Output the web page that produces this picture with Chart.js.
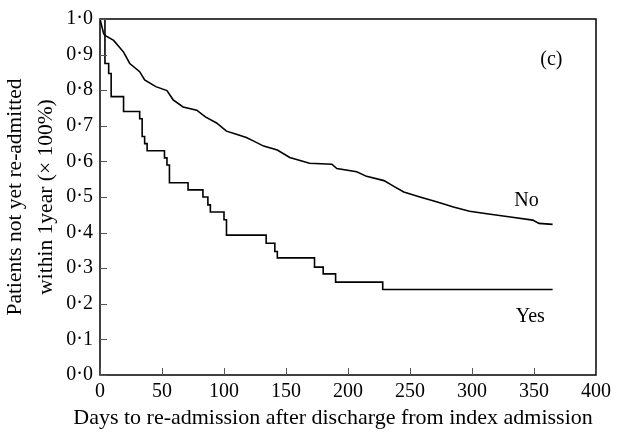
<!DOCTYPE html>
<html>
<head>
<meta charset="utf-8">
<script src="https://cdn.jsdelivr.net/npm/chart.js@4/dist/chart.umd.min.js"></script>
<style>
html, body { margin: 0; padding: 0; background: #fff; }
#wrap { width: 617px; height: 436px; }
</style>
</head>
<body>
<div id="wrap"><canvas id="kmChart"></canvas></div>
<script>
// days and survival proportion
var noDays = [0, 3, 4, 11, 19, 24, 32, 36, 45, 54, 59, 67, 78, 85, 94, 102, 110, 118, 124, 132, 143, 153, 169, 187, 191, 207, 215, 229, 237, 245, 258, 272, 285, 298, 312, 331, 349, 354, 365];
var noVals = [1.0, 0.958, 0.954, 0.94, 0.907, 0.875, 0.852, 0.829, 0.81, 0.799, 0.773, 0.753, 0.744, 0.725, 0.708, 0.685, 0.676, 0.667, 0.657, 0.643, 0.632, 0.611, 0.595, 0.592, 0.58, 0.571, 0.558, 0.546, 0.53, 0.514, 0.5, 0.486, 0.472, 0.46, 0.453, 0.444, 0.435, 0.426, 0.423];
var yesDays = [0, 4, 7, 9, 19, 32, 34, 36, 38, 52, 54, 56, 71, 83, 87, 89, 100, 102, 134, 141, 143, 173, 180, 190, 228, 365];
var yesVals = [1.0, 0.875, 0.847, 0.782, 0.74, 0.72, 0.67, 0.65, 0.63, 0.61, 0.59, 0.54, 0.52, 0.5, 0.478, 0.458, 0.436, 0.393, 0.37, 0.347, 0.329, 0.303, 0.284, 0.261, 0.24, 0.24];
var xTicks = [0, 50, 100, 150, 200, 250, 300, 350, 400];
var yTicks = [0, 0.1, 0.2, 0.3, 0.4, 0.5, 0.6, 0.7, 0.8, 0.9, 1.0];
var xTitle = 'Days to re-admission after discharge from index admission';
var notes = [
    { text: '(c)', x: 364, y: 0.886 },
    { text: 'No', x: 344, y: 0.49 },
    { text: 'Yes', x: 347, y: 0.164 }
];

function pts(xs, ys) {
    return xs.map(function (d, i) { return { x: d, y: ys[i] }; });
}

var serif = '"Liberation Serif", "DejaVu Serif", serif';

// inward ticks, box, x title and text labels
var framePlugin = {
    id: 'frame',
    afterDatasetsDraw: function (chart) {
        var c = chart.ctx, a = chart.chartArea;
        var xs = chart.scales.x, ys = chart.scales.y;
        c.save();
        c.strokeStyle = '#000';
        c.lineWidth = 1.5;
        c.strokeRect(a.left, a.top, a.right - a.left, a.bottom - a.top);
        c.lineWidth = 1;
        c.strokeStyle = '#555';
        xTicks.forEach(function (t) {
            var px = Math.round(xs.getPixelForValue(t)) + 0.5;
            c.beginPath(); c.moveTo(px, a.bottom); c.lineTo(px, a.bottom - 7); c.stroke();
        });
        yTicks.forEach(function (t) {
            var py = Math.round(ys.getPixelForValue(t)) + 0.5;
            c.beginPath(); c.moveTo(a.left, py); c.lineTo(a.left + 7, py); c.stroke();
        });
        c.fillStyle = '#000';
        c.textAlign = 'center';
        c.textBaseline = 'middle';
        c.font = '20px ' + serif;
        notes.forEach(function (n) {
            c.fillText(n.text, xs.getPixelForValue(n.x), ys.getPixelForValue(n.y));
        });
        // x title sits a little left of the plot centre in the original
        c.font = '22px ' + serif;
        c.fillText(xTitle, 333, 418);
        c.restore();
    }
};

new Chart(document.getElementById('kmChart'), {
    type: 'line',
    data: {
        datasets: [{
            label: 'No',
            data: pts(noDays, noVals),
            borderColor: '#000',
            borderWidth: 1.6,
            pointRadius: 0,
            tension: 0
        }, {
            label: 'Yes',
            data: pts(yesDays, yesVals),
            borderColor: '#000',
            borderWidth: 1.6,
            pointRadius: 0,
            stepped: 'before'
        }]
    },
    options: {
        responsive: true,
        maintainAspectRatio: false,
        animation: false,
        layout: { padding: { top: 15, right: 21, left: 0, bottom: 0 } },
        plugins: { legend: { display: false }, tooltip: { enabled: false } },
        scales: {
            x: {
                type: 'linear',
                min: 0, max: 400,
                afterBuildTicks: function (s) { s.ticks = xTicks.map(function (v) { return { value: v }; }); },
                afterFit: function (s) { s.height = 61; },
                grid: { display: false, drawTicks: false },
                border: { display: false },
                ticks: { color: '#000', font: { family: serif, size: 20 }, padding: 5, maxRotation: 0 },
                title: { display: false }
            },
            y: {
                min: 0, max: 1,
                afterBuildTicks: function (s) { s.ticks = yTicks.map(function (v) { return { value: v }; }); },
                afterFit: function (s) { s.width = 100; },
                grid: { display: false, drawTicks: false },
                border: { display: false },
                ticks: {
                    color: '#000', font: { family: serif, size: 20 }, padding: 7,
                    callback: function (v) { return v.toFixed(1).replace('.', '\u00b7'); }
                },
                title: {
                    display: true,
                    text: ['Patients not yet re-admitted', 'within 1year (\u00d7 100%)'],
                    color: '#000',
                    font: { family: serif, size: 21.5, lineHeight: 1.45 },
                    padding: { top: 0, bottom: 2 }
                }
            }
        }
    },
    plugins: [framePlugin]
});
</script>
</body>
</html>
